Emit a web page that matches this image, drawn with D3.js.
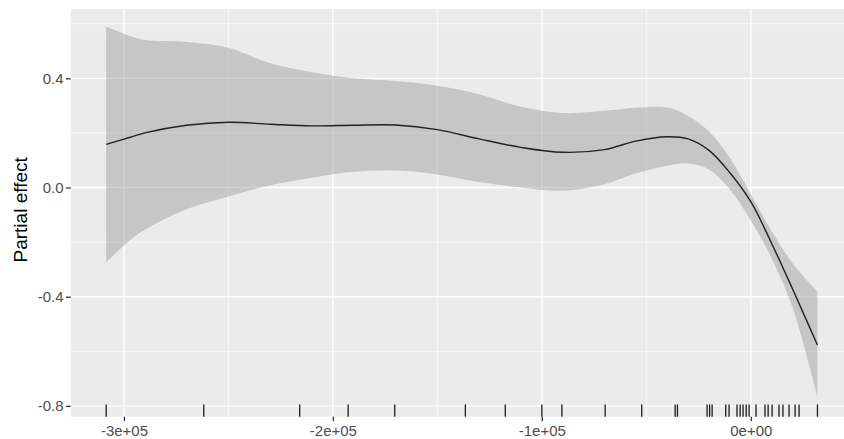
<!DOCTYPE html>
<html>
<head>
<meta charset="utf-8">
<script src="https://cdn.jsdelivr.net/npm/d3@7"></script>
<style>
  body { margin: 0; background: #fff; }
  svg { display: block; font-family: "Liberation Sans", Arial, sans-serif; }
</style>
</head>
<body>
<svg id="chart" width="844" height="439"></svg>
<script>
// smooth term: x grid, fit and confidence band
const xGrid = [-308500, -297000, -290000, -270000, -250000, -230000, -210000, -190000, -170000, -150000,
    -130000, -110000, -90000, -70000, -55000, -40000, -30000, -20000, -10000, 0, 10000, 20000, 31900];
const fitValues = [0.158, 0.184, 0.200, 0.228, 0.239, 0.232, 0.226, 0.228, 0.229, 0.212,
    0.178, 0.147, 0.129, 0.139, 0.170, 0.186, 0.178, 0.136, 0.054, -0.052, -0.205, -0.372, -0.577];
const upperValues = [0.589, 0.555, 0.540, 0.533, 0.512, 0.455, 0.422, 0.400, 0.390, 0.373,
    0.342, 0.296, 0.273, 0.281, 0.292, 0.293, 0.262, 0.205, 0.108, -0.025, -0.160, -0.277, -0.382];
const lowerValues = [-0.275, -0.192, -0.155, -0.080, -0.033, 0.008, 0.036, 0.058, 0.062, 0.048,
    0.020, 0.000, -0.012, 0.012, 0.052, 0.080, 0.088, 0.066, -0.007, -0.121, -0.260, -0.440, -0.766];

// observed x values for the rug
const rugValues = [-308500, -261800, -215900, -192700, -170400, -136600, -117500, -100000, -90400,
    -69700, -52200, -36200, -35100, -20900, -19700, -18500, -12000, -10400, -6600, -5100, -3700,
    -2200, -800, 2500, 6800, 8300, 10200, 13500, 15400, 18300, 21200, 23100, 31900];

const xTicks = [-300000, -200000, -100000, 0];
const xTickLabels = ['-3e+05', '-2e+05', '-1e+05', '0e+00'];
const xMinor = [-250000, -150000, -50000];
const yTicks = [0.4, 0.0, -0.4, -0.8];
const yTickLabels = ['0.4', '0.0', '-0.4', '-0.8'];
const yMinor = [0.6, 0.2, -0.2, -0.6];

const svg = d3.select('#chart');
const panel = { left: 70.7, top: 9, right: 852.9, bottom: 416.7 };

const x = d3.scaleLinear().domain([-325482, 48866]).range([panel.left, panel.right]);
const y = d3.scaleLinear().domain([-0.8396, 0.654]).range([panel.bottom, panel.top]);

svg.append('rect')
    .attr('x', panel.left).attr('y', panel.top)
    .attr('width', panel.right - panel.left).attr('height', panel.bottom - panel.top)
    .attr('fill', '#ebebeb');

const grid = svg.append('g').attr('stroke', '#fff');
grid.selectAll('.ymin').data(yMinor).enter().append('line')
    .attr('x1', panel.left).attr('x2', panel.right)
    .attr('y1', d => y(d)).attr('y2', d => y(d)).attr('stroke-width', 0.7);
grid.selectAll('.xmin').data(xMinor).enter().append('line')
    .attr('y1', panel.top).attr('y2', panel.bottom)
    .attr('x1', d => x(d)).attr('x2', d => x(d)).attr('stroke-width', 0.7);
grid.selectAll('.ymaj').data(yTicks).enter().append('line')
    .attr('x1', panel.left).attr('x2', panel.right)
    .attr('y1', d => y(d)).attr('y2', d => y(d)).attr('stroke-width', 1.4);
grid.selectAll('.xmaj').data(xTicks).enter().append('line')
    .attr('y1', panel.top).attr('y2', panel.bottom)
    .attr('x1', d => x(d)).attr('x2', d => x(d)).attr('stroke-width', 1.4);

const rows = xGrid.map((v, i) => ({ x: v, fit: fitValues[i], lo: lowerValues[i], hi: upperValues[i] }));
const smooth = d3.curveCatmullRom.alpha(0.5);

svg.append('path')
    .datum(rows)
    .attr('fill', '#999')
    .attr('fill-opacity', 0.45)
    .attr('d', d3.area().curve(smooth)
        .x(d => x(d.x)).y0(d => y(d.lo)).y1(d => y(d.hi)));

svg.append('path')
    .datum(rows)
    .attr('fill', 'none')
    .attr('stroke', '#222')
    .attr('stroke-width', 1.4)
    .attr('d', d3.line().curve(smooth).x(d => x(d.x)).y(d => y(d.fit)));

// rug along the bottom of the panel
const rugLen = (panel.bottom - panel.top) * 0.03;
svg.append('g').selectAll('line').data(rugValues).enter().append('line')
    .attr('x1', d => x(d)).attr('x2', d => x(d))
    .attr('y1', panel.bottom - rugLen).attr('y2', panel.bottom)
    .attr('stroke', '#1a1a1a').attr('stroke-width', 1.3);

// axes
const xAxis = svg.append('g')
    .attr('transform', `translate(0,${panel.bottom})`)
    .call(d3.axisBottom(x).tickValues(xTicks).tickSize(4.5).tickPadding(4)
        .tickFormat((d, i) => xTickLabels[i]));
const yAxis = svg.append('g')
    .attr('transform', `translate(${panel.left},0)`)
    .call(d3.axisLeft(y).tickValues(yTicks).tickSize(4.7).tickPadding(2.5)
        .tickFormat((d, i) => yTickLabels[i]));

[xAxis, yAxis].forEach(a => {
    a.select('.domain').remove();
    a.selectAll('.tick line').attr('stroke', '#333').attr('stroke-width', 1.3);
    a.selectAll('.tick text').attr('fill', '#4d4d4d').style('font-size', '15px')
        .style('font-family', '"Liberation Sans", Arial, sans-serif');
});

svg.append('text')
    .attr('transform', `translate(27,${(panel.top + panel.bottom) / 2 - 3}) rotate(-90)`)
    .attr('text-anchor', 'middle')
    .style('font-size', '19px')
    .attr('fill', '#000')
    .text('Partial effect');
</script>
</body>
</html>
